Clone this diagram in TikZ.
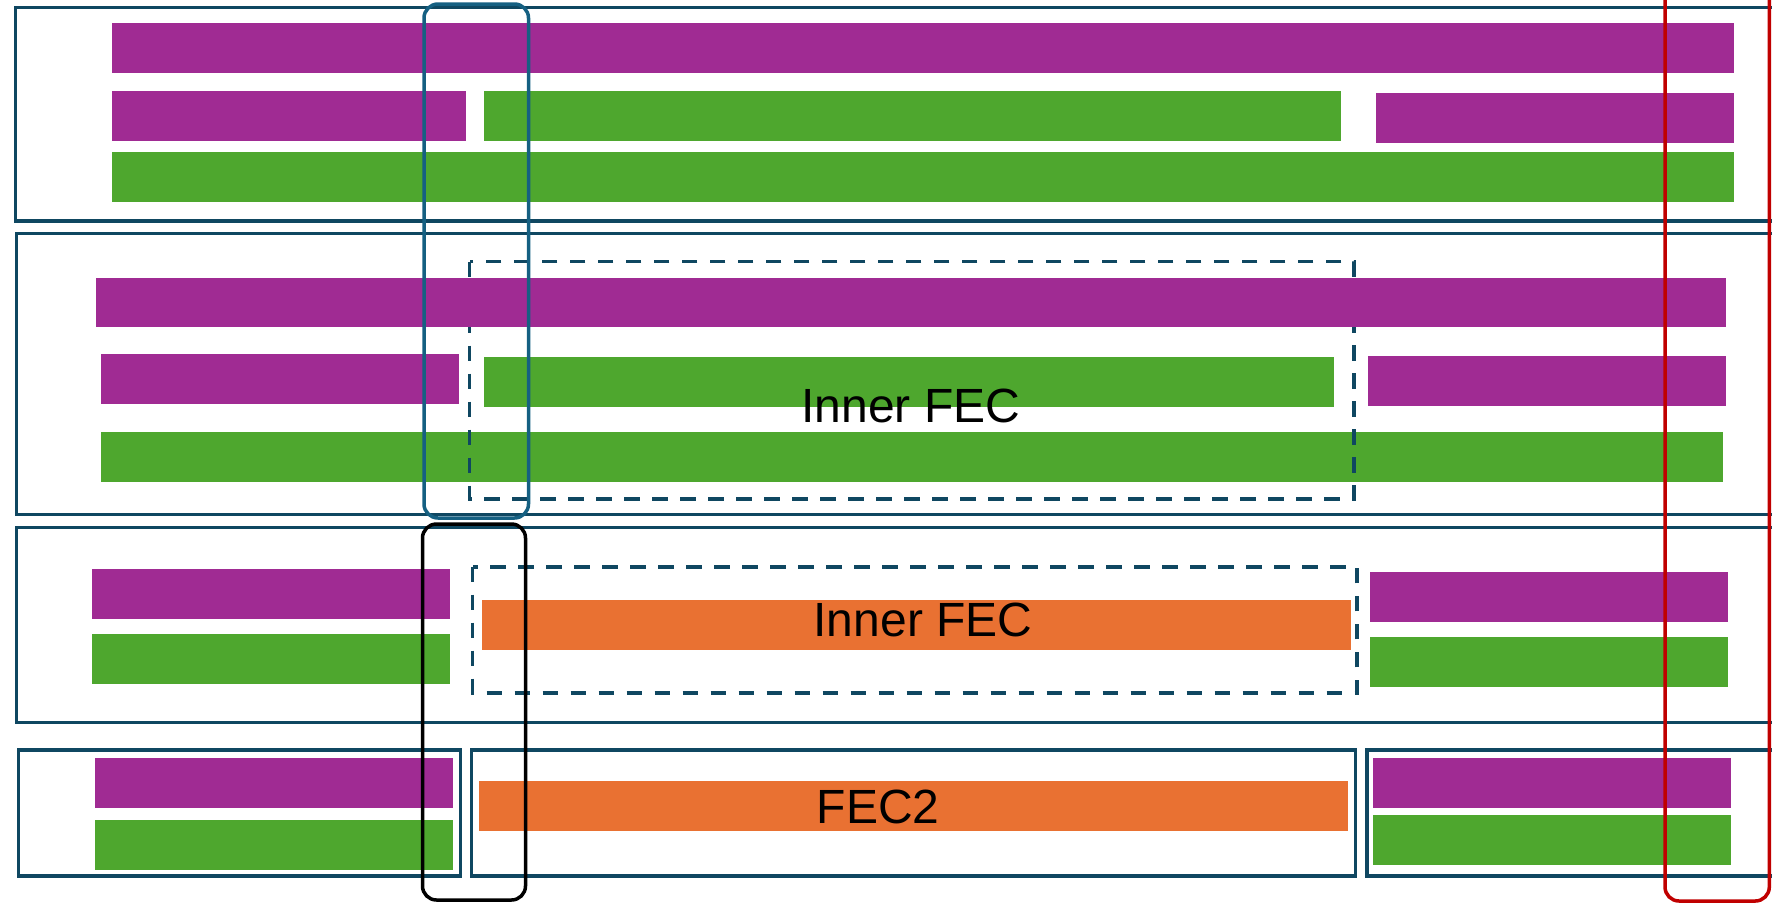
\documentclass[tikz,border=0pt]{standalone}
\usepackage{fontspec}
\setmainfont{Liberation Sans}
\definecolor{fecpurple}{HTML}{A02B93}
\definecolor{fecgreen}{HTML}{4EA72E}
\definecolor{fecorange}{HTML}{E97132}
\definecolor{boxline}{HTML}{0F4761}
\definecolor{laneblue}{HTML}{156082}
\definecolor{lanered}{HTML}{C00000}
\begin{document}
\begin{tikzpicture}[x=1pt,y=-1pt,
  framebox/.style={draw=boxline, line width=3.3pt},
  pbar/.style={fill=fecpurple},
  gbar/.style={fill=fecgreen},
  obar/.style={fill=fecorange},
  fecregion/.style={draw=boxline, line width=3.6pt, dash pattern=on 15.5pt off 12.5pt},
  lane/.style={rounded corners=14pt, line width=3.5pt},
  fectext/.style={font=\fontsize{48}{58}\selectfont, anchor=base, inner sep=0pt, text=black}
]
\useasboundingbox (0,0) rectangle (1772,903);
\clip (0,0) rectangle (1772,903);

% outer frames of the four rows
\draw[framebox] (15.5,7.5) rectangle (1776,221);
\draw[framebox] (16.5,233.3) rectangle (1776,514.3);
\draw[framebox] (16.5,527.3) rectangle (1776,722.7);
\draw[framebox] (18.2,750) rectangle (460.2,876);
\draw[framebox] (471.7,750) rectangle (1355.6,876);
\draw[framebox] (1366.9,750) rectangle (1776,876);

% row 1 bars
\fill[pbar] (112,23) rectangle (1734,72.7);
\fill[pbar] (112,91) rectangle (466,141);
\fill[gbar] (484,91) rectangle (1341,141);
\fill[pbar] (1376,93) rectangle (1734,143);
\fill[gbar] (112,152) rectangle (1734,201.7);

% row 2 bars and the inner FEC region
\fill[gbar] (101,432) rectangle (1723,482);
\fill[pbar] (101,354) rectangle (459,404);
\fill[gbar] (484,357) rectangle (1334,407);
\fill[pbar] (1368,356) rectangle (1726,406);
\draw[fecregion] (469.6,261.5) rectangle (1354,499);
\fill[pbar] (96,278) rectangle (1726,327);

% row 3 bars and the inner FEC region
\fill[pbar] (92,569) rectangle (450,619);
\fill[gbar] (92,634) rectangle (450,684);
\fill[obar] (482,600) rectangle (1351,650);
\fill[pbar] (1370,572) rectangle (1728,622);
\fill[gbar] (1370,637) rectangle (1728,687);
\draw[fecregion] (472.6,566.7) rectangle (1357.2,692.7);

% row 4 bars
\fill[pbar] (95,758) rectangle (453,808);
\fill[gbar] (95,820) rectangle (453,870);
\fill[obar] (479,781) rectangle (1348,831);
\fill[pbar] (1373,758) rectangle (1731,808);
\fill[gbar] (1373,815) rectangle (1731,865);

% labels
\node[fectext] (inner1) at (910.8,422.7) {Inner FEC};
\node[fectext] (inner2) at (923,636) {Inner FEC};
\node[fectext] (fec2) at (878.3,823.3) {FEC2};

% vertical lanes
\draw[lane, draw=laneblue] (424,4) rectangle (528.5,518);
\draw[lane, draw=black] (422.5,524) rectangle (525.5,900);
\draw[lane, draw=lanered] (1665,-30) rectangle (1769.3,901);
\end{tikzpicture}
\end{document}
